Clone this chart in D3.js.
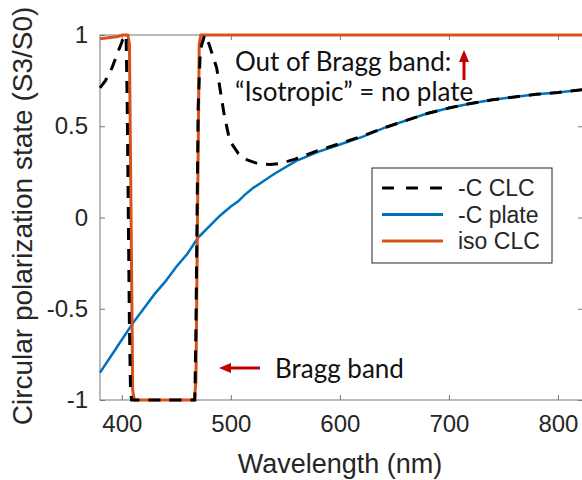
<!DOCTYPE html>
<html>
<head>
<meta charset="utf-8">
<script src="https://cdn.jsdelivr.net/npm/d3@7"></script>
<style>
  body { margin: 0; background: #fff; }
  svg { display: block; }
</style>
</head>
<body>
<svg id="chart" width="582" height="480"></svg>
<script>
// -C CLC (dashed black)
const clcWl = [380, 385, 391, 396, 400, 402, 404, 405, 406, 407, 408, 409, 467, 468, 469, 470, 472, 476, 480, 487, 494, 499, 507, 515, 525, 536, 545, 559, 579, 600, 620, 640, 660, 680, 700, 720, 740, 760, 780, 800, 823];
const clcVal = [0.71, 0.75, 0.82, 0.9, 0.96, 1.0, 0.98, 0.6, 0, -0.6, -0.95, -1, -1, -0.6, 0, 0.6, 0.92, 1.0, 0.95, 0.82, 0.56, 0.42, 0.35, 0.315, 0.295, 0.29, 0.295, 0.32, 0.365, 0.405, 0.445, 0.49, 0.53, 0.57, 0.6, 0.625, 0.645, 0.66, 0.675, 0.685, 0.7];

// -C plate (blue)
const plateWl = [380, 390, 400, 410, 420, 430, 440, 450, 460, 470, 480, 490, 500, 507, 512, 520, 540, 560, 580, 600, 620, 640, 660, 680, 700, 720, 740, 760, 780, 800, 823];
const plateVal = [-0.85, -0.76, -0.67, -0.58, -0.5, -0.42, -0.35, -0.27, -0.2, -0.11, -0.05, 0.01, 0.06, 0.09, 0.12, 0.16, 0.24, 0.31, 0.36, 0.4, 0.44, 0.49, 0.53, 0.57, 0.6, 0.625, 0.645, 0.66, 0.675, 0.685, 0.7];

// iso CLC (orange)
const isoWl = [380, 395, 401, 405.5, 407, 410, 411.5, 466.5, 468, 471, 472.5, 823];
const isoVal = [0.98, 0.99, 1, 1, 0.95, -0.95, -1, -1, -0.9, 0.95, 1, 1];

const xTicks = [400, 500, 600, 700, 800];
const yTicks = [-1, -0.5, 0, 0.5, 1];
const legendNames = ['-C CLC', '-C plate', 'iso CLC'];

const svg = d3.select('#chart');
const x = d3.scaleLinear().domain([380, 823]).range([100, 583]);
const y = d3.scaleLinear().domain([-1, 1]).range([400, 35]);

const tickFont = '"Liberation Sans", Arial, sans-serif';
const noteFont = 'Lato, "Open Sans", sans-serif';
const textColor = '#262626';
const red = '#C00000';

// axes box
svg.append('rect')
    .attr('x', x(380)).attr('y', y(1))
    .attr('width', x(823) - x(380)).attr('height', y(-1) - y(1))
    .attr('fill', 'none').attr('stroke', '#777').attr('stroke-width', 1);

// ticks (inward, both sides)
const xAxisB = d3.axisBottom(x).tickValues(xTicks).tickSize(-5).tickPadding(15).tickFormat(d3.format('d'));
const gxb = svg.append('g').attr('transform', `translate(0,${y(-1)})`).call(xAxisB);
const gxt = svg.append('g').attr('transform', `translate(0,${y(1)})`)
    .call(d3.axisTop(x).tickValues(xTicks).tickSize(-5).tickFormat(''));
const yAxisL = d3.axisLeft(y).tickValues(yTicks).tickSize(-5).tickPadding(12).tickFormat(d => String(d));
const gyl = svg.append('g').attr('transform', `translate(${x(380)},0)`).call(yAxisL);
const gyr = svg.append('g').attr('transform', `translate(${x(823)},0)`)
    .call(d3.axisRight(y).tickValues(yTicks).tickSize(-5).tickFormat(''));

[gxb, gxt, gyl, gyr].forEach(g => {
    g.select('.domain').remove();
    g.selectAll('.tick line').attr('stroke', '#777');
    g.selectAll('.tick text')
        .attr('fill', textColor)
        .style('font-family', tickFont)
        .style('font-size', '24px');
});
gxb.selectAll('.tick text').attr('dy', '0.71em');

// axis titles
svg.append('text')
    .attr('x', 340).attr('y', 473)
    .attr('text-anchor', 'middle')
    .attr('fill', textColor)
    .style('font-family', tickFont).style('font-size', '27px')
    .text('Wavelength (nm)');

svg.append('text')
    .attr('transform', `translate(32,216) rotate(-90)`)
    .attr('text-anchor', 'middle')
    .attr('fill', textColor)
    .style('font-family', tickFont).style('font-size', '28px')
    .text('Circular polarization state (S3/S0)');

// lines
const line = d3.line().x(d => x(d[0])).y(d => y(d[1]));
const plateData = d3.zip(plateWl, plateVal);
const isoData = d3.zip(isoWl, isoVal);
const clcData = d3.zip(clcWl, clcVal);

svg.append('path').datum(plateData)
    .attr('d', line).attr('fill', 'none')
    .attr('stroke', '#0072BD').attr('stroke-width', 2.5);

svg.append('path').datum(isoData)
    .attr('d', line).attr('fill', 'none')
    .attr('stroke', '#D95319').attr('stroke-width', 3).attr('stroke-linejoin', 'round');

svg.append('path').datum(clcData)
    .attr('d', line).attr('fill', 'none')
    .attr('stroke', '#000').attr('stroke-width', 3)
    .attr('stroke-dasharray', '12,9');

// annotations
const notes = svg.append('g')
    .attr('fill', '#111')
    .style('font-family', noteFont).style('font-size', '26px');
notes.append('text').attr('x', 235).attr('y', 71).text('Out of Bragg band:');
notes.append('text').attr('x', 235).attr('y', 101).text('\u201CIsotropic\u201D = no plate');
notes.append('text').attr('x', 275).attr('y', 378).text('Bragg band');

// red arrows
svg.append('line')
    .attr('x1', 464).attr('y1', 80).attr('x2', 464).attr('y2', 60)
    .attr('stroke', red).attr('stroke-width', 3);
svg.append('path')
    .attr('d', 'M464,50 L469,62 L459,62 Z').attr('fill', red);

svg.append('line')
    .attr('x1', 260).attr('y1', 368).attr('x2', 228).attr('y2', 368)
    .attr('stroke', red).attr('stroke-width', 3);
svg.append('path')
    .attr('d', 'M219,368 L231,363 L231,373 Z').attr('fill', red);

// legend
const legend = svg.append('g');
legend.append('rect')
    .attr('x', 372).attr('y', 168).attr('width', 180).attr('height', 95)
    .attr('fill', '#fff').attr('stroke', '#262626').attr('stroke-width', 1);

const legendStyles = [
    { stroke: '#000', width: 3, dash: '12,12' },
    { stroke: '#0072BD', width: 3, dash: null },
    { stroke: '#D95319', width: 3, dash: null }
];
legendNames.forEach((name, i) => {
    const ly = 188 + i * 26.5;
    legend.append('line')
        .attr('x1', 382).attr('x2', 443).attr('y1', ly).attr('y2', ly)
        .attr('stroke', legendStyles[i].stroke)
        .attr('stroke-width', legendStyles[i].width)
        .attr('stroke-dasharray', legendStyles[i].dash);
    legend.append('text')
        .attr('x', 458).attr('y', ly).attr('dy', '0.35em')
        .attr('fill', textColor)
        .style('font-family', tickFont).style('font-size', '23px')
        .text(name);
});
</script>
</body>
</html>
